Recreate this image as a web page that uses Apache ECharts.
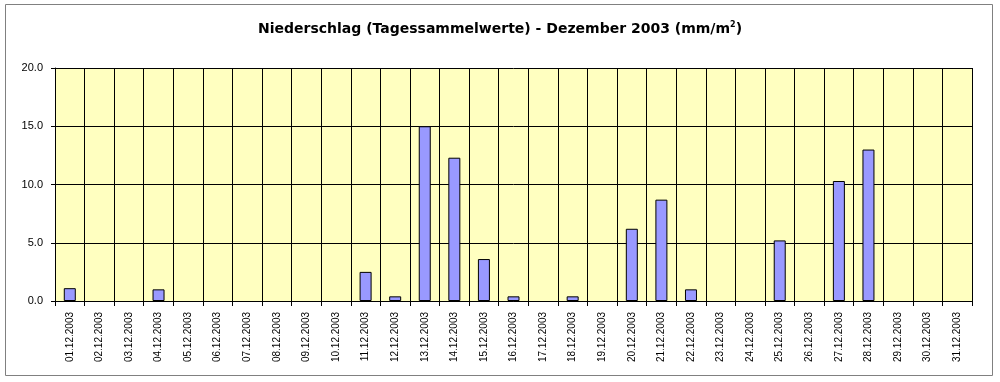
<!DOCTYPE html>
<html>
<head>
<meta charset="utf-8">
<script src="https://cdn.jsdelivr.net/npm/echarts@6/dist/echarts.min.js"></script>
<style>html,body{margin:0;padding:0;background:#fff}#c{width:1000px;height:382px}</style>
</head>
<body>
<div id="c"></div>
<script>
const days = ['01.12.2003','02.12.2003','03.12.2003','04.12.2003','05.12.2003','06.12.2003','07.12.2003','08.12.2003','09.12.2003','10.12.2003','11.12.2003','12.12.2003','13.12.2003','14.12.2003','15.12.2003','16.12.2003','17.12.2003','18.12.2003','19.12.2003','20.12.2003','21.12.2003','22.12.2003','23.12.2003','24.12.2003','25.12.2003','26.12.2003','27.12.2003','28.12.2003','29.12.2003','30.12.2003','31.12.2003'];
const precipitation = [1.1,0,0,1.0,0,0,0,0,0,0,2.5,0.4,15.0,12.3,3.6,0.4,0,0.4,0,6.2,8.7,1.0,0,0,5.2,0,10.3,13.0,0,0,0];
const yTicks = [0,5,10,15,20];

const seriesData = precipitation.map(v => v === 0 ? {value:v, itemStyle:{borderWidth:0, opacity:0}} : v);

const chart = echarts.init(document.getElementById('c'), null, {renderer:'canvas'});
chart.setOption({
  animation:false,
  backgroundColor:'#fff',
  textStyle:{fontFamily:'Liberation Sans'},
  title:{
    text:'Niederschlag (Tagessammelwerte) - Dezember 2003 (mm/m{s|2})',
    left:'center', top:16,
    textStyle:{fontFamily:'DejaVu Sans', fontSize:14, fontWeight:'bold', color:'#000',
      rich:{s:{fontFamily:'DejaVu Sans', fontSize:8, fontWeight:'bold', color:'#000', verticalAlign:'top', padding:[0,0,8,0]}}}
  },
  graphic:[{type:'rect', shape:{x:5.5,y:4.5,width:987,height:371}, style:{fill:'none', stroke:'#808080', lineWidth:1}, silent:true}],
  grid:{left:55, right:28, top:68, bottom:81, show:true, backgroundColor:'#FFFFC0', borderWidth:0},
  xAxis:{
    type:'category', data:days, boundaryGap:true,
    axisLine:{lineStyle:{color:'#000', width:1}},
    axisTick:{show:true, length:5, interval:0, lineStyle:{color:'#000'}},
    splitLine:{show:true, interval:0, lineStyle:{color:'#000', width:1}},
    axisLabel:{interval:0, rotate:90, fontFamily:'Liberation Sans', fontSize:10, color:'#000', margin:11}
  },
  yAxis:{
    type:'value', min:yTicks[0], max:yTicks[yTicks.length-1], interval:5,
    axisLine:{show:true, lineStyle:{color:'#000', width:1}},
    axisTick:{show:true, length:4, lineStyle:{color:'#000'}},
    splitLine:{show:true, lineStyle:{color:'#000', width:1}},
    axisLabel:{fontFamily:'Liberation Sans', fontSize:11, color:'#000', margin:12, formatter:v=>v.toFixed(1)}
  },
  series:[{
    type:'bar', data:seriesData, barWidth:12,
    itemStyle:{color:'#9999FF', borderColor:'#000', borderWidth:1}
  }]
});
</script>
</body>
</html>
